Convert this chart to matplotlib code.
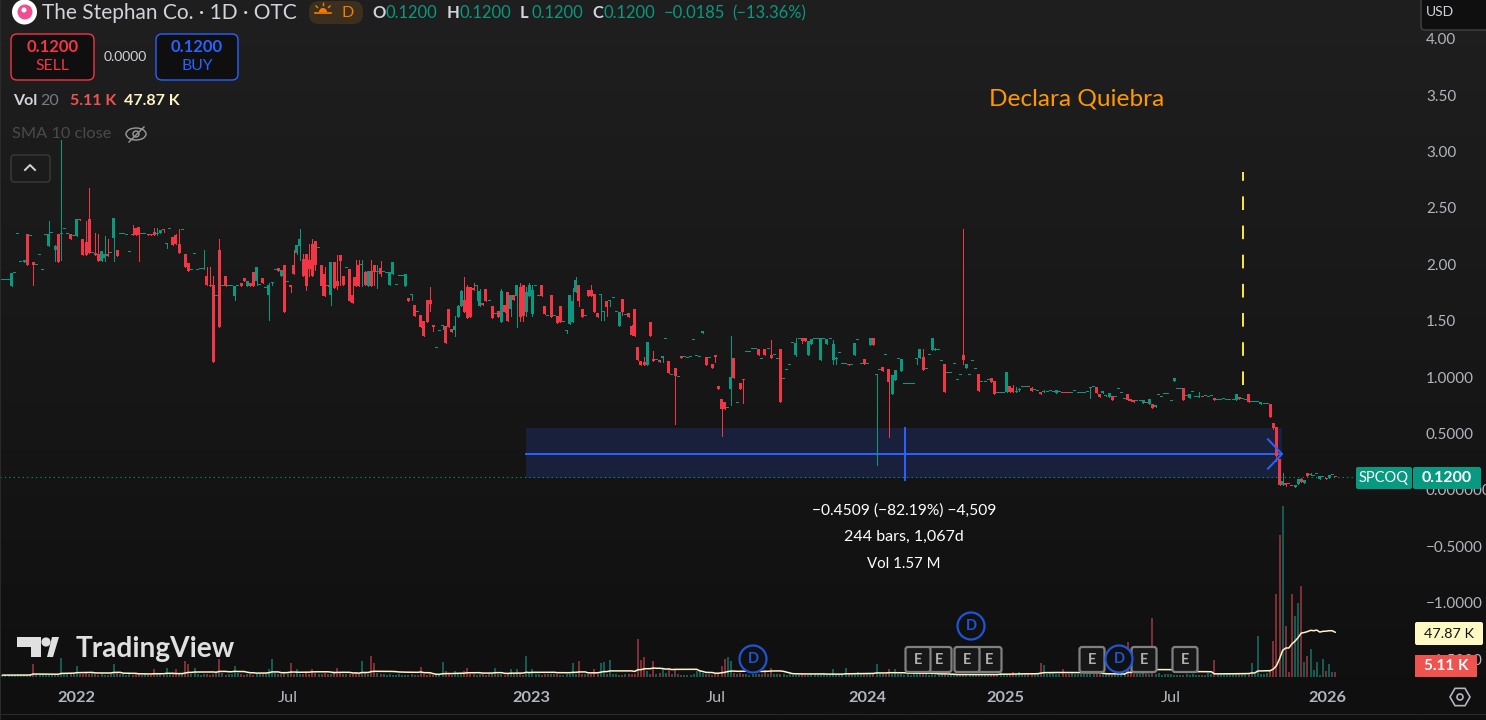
import numpy as np
import pandas as pd
import matplotlib
matplotlib.use("Agg")
import matplotlib.pyplot as plt
from matplotlib.patches import FancyBboxPatch, Rectangle, Circle, Polygon, Ellipse, RegularPolygon

plt.rcParams['font.family'] = ['Lato', 'DejaVu Sans']

# a plain float is a flat bar (open = high = low = close), the rest are o, h, l, c
ohlc_2022 = [
    1.87, 1.87, 1.87, (1.82, 1.93, 1.82, 1.93), 1.93, 2.28, 2.03, (2.03, 2.05, 2.03, 2.05), (2.28, 2.28, 2.00, 2.00), 2.26,
    (2.03, 2.03, 1.83, 2.00), 2.00, 2.09, 1.96, 2.27, (2.17, 2.39, 2.17, 2.28), 2.29, (2.14, 2.18, 2.04, 2.17), (2.28, 2.28, 2.03, 2.03), (2.28, 3.11, 2.05, 2.28),
    2.32, 2.28, (2.28, 2.28, 2.23, 2.23), 2.26, (2.26, 2.41, 2.26, 2.41), (2.41, 2.41, 2.40, 2.40), (2.23, 2.23, 2.09, 2.09), (2.21, 2.39, 2.09, 2.09), (2.41, 2.69, 2.11, 2.11), 2.11,
    (2.11, 2.29, 2.09, 2.09), (2.10, 2.28, 2.04, 2.04), (2.04, 2.13, 2.04, 2.13), (2.07, 2.26, 2.04, 2.10), (2.10, 2.23, 2.08, 2.08), 2.11, (2.24, 2.42, 2.04, 2.42), (2.14, 2.14, 2.08, 2.08), 2.28, 2.28,
    2.27, 2.12, (2.28, 2.36, 2.27, 2.27), (2.33, 2.33, 2.27, 2.27), (2.34, 2.34, 2.04, 2.27), 2.28, 2.28, (2.28, 2.28, 2.27, 2.27), (2.28, 2.28, 2.27, 2.27), (2.30, 2.33, 2.27, 2.27),
    (2.28, 2.33, 2.27, 2.28), (2.29, 2.31, 2.29, 2.31), (2.32, 2.32, 2.30, 2.31), (2.19, 2.19, 2.15, 2.19), 2.32, (2.25, 2.25, 2.18, 2.18), (2.27, 2.28, 2.19, 2.19), (2.19, 2.32, 2.11, 2.11), 2.31, (2.10, 2.10, 1.99, 1.99),
    (2.02, 2.02, 1.95, 1.95), 1.96, 2.10, 1.96, 1.97, (1.97, 2.14, 1.97, 1.97), (1.91, 1.99, 1.83, 1.83), (1.83, 1.99, 1.82, 1.82), (1.83, 1.91, 1.14, 1.14), 1.73,
    (2.14, 2.23, 1.45, 1.45), 1.82, (1.91, 1.91, 1.82, 1.82), 1.82, 1.82, (1.73, 1.82, 1.69, 1.82), 1.82, (1.84, 1.84, 1.82, 1.82), (1.89, 1.89, 1.86, 1.86), (1.82, 1.86, 1.82, 1.86),
    (1.84, 1.84, 1.82, 1.82), (1.94, 1.94, 1.82, 1.82), (1.86, 1.99, 1.83, 1.99), 1.83, (1.89, 1.89, 1.84, 1.84), 1.80, (1.74, 1.84, 1.52, 1.83), (1.84, 1.84, 1.83, 1.84), 1.96, (1.98, 1.98, 1.95, 1.95),
    (1.91, 1.96, 1.91, 1.96), (2.00, 2.00, 1.59, 1.59), 1.85, (1.83, 1.83, 1.76, 1.81), (2.00, 2.14, 1.92, 1.92), (2.11, 2.18, 2.10, 2.18), (2.17, 2.32, 2.05, 2.23), (2.06, 2.10, 1.91, 1.91), (2.10, 2.10, 1.78, 1.82), (2.05, 2.19, 1.91, 1.97),
    (2.19, 2.23, 1.91, 1.91), (2.22, 2.22, 1.96, 2.00), 2.15, (2.00, 2.00, 1.74, 1.82), (1.92, 1.99, 1.73, 1.73), (1.83, 1.83, 1.82, 1.82), (1.74, 2.03, 1.65, 2.03), (2.03, 2.03, 1.80, 1.80), (1.86, 2.09, 1.79, 1.82), (2.09, 2.09, 1.83, 2.04),
    (1.91, 1.91, 1.83, 1.83), 1.98, (1.97, 1.97, 1.68, 1.68),
]

ohlc_2023 = [
    (1.74, 1.90, 1.67, 1.67), (1.90, 2.05, 1.82, 1.82), (2.00, 2.05, 1.82, 1.82), (2.00, 2.05, 1.82, 2.00), (1.94, 1.95, 1.83, 1.83), (1.82, 1.95, 1.82, 1.95), (1.95, 2.05, 1.82, 1.82), (2.00, 2.00, 1.83, 1.94), (1.94, 2.00, 1.80, 1.94), (1.98, 2.04, 1.91, 1.92),
    1.94, 1.93, (1.83, 1.94, 1.83, 1.94), (1.92, 2.03, 1.92, 2.03), 1.83, 1.91, 1.91, (1.82, 1.92, 1.82, 1.92), (1.71, 1.71, 1.68, 1.68), (1.74, 1.74, 1.69, 1.74),
    (1.65, 1.65, 1.55, 1.55), 1.59, (1.56, 1.56, 1.45, 1.45), (1.51, 1.51, 1.37, 1.37), (1.69, 1.69, 1.50, 1.50), (1.69, 1.81, 1.60, 1.66), (1.47, 1.47, 1.42, 1.45), 1.27, 1.42, (1.46, 1.46, 1.44, 1.46),
    (1.46, 1.46, 1.31, 1.31), (1.61, 1.61, 1.45, 1.45), (1.44, 1.44, 1.41, 1.41), (1.43, 1.55, 1.37, 1.46), (1.54, 1.65, 1.54, 1.64), (1.64, 1.78, 1.64, 1.77), (1.69, 1.90, 1.59, 1.59), (1.81, 1.83, 1.53, 1.53), (1.81, 1.81, 1.54, 1.54), (1.80, 1.84, 1.78, 1.78),
    (1.82, 1.82, 1.69, 1.82), (1.64, 1.79, 1.64, 1.77), (1.67, 1.67, 1.65, 1.65), (1.79, 1.79, 1.68, 1.68), 1.68, (1.64, 1.64, 1.53, 1.53), 1.57, (1.60, 1.60, 1.54, 1.54), (1.50, 1.79, 1.50, 1.77), (1.65, 1.65, 1.59, 1.59),
    (1.76, 1.76, 1.51, 1.51), (1.61, 1.74, 1.55, 1.74), (1.74, 1.74, 1.69, 1.69), (1.73, 1.83, 1.45, 1.83), (1.81, 1.84, 1.51, 1.54), (1.83, 1.83, 1.51, 1.55), (1.59, 1.81, 1.55, 1.76), (1.73, 1.84, 1.73, 1.83), (1.57, 1.83, 1.55, 1.78), 1.82,
    1.73, (1.83, 1.83, 1.73, 1.73), (1.64, 1.64, 1.57, 1.57), 1.55, (1.74, 1.74, 1.54, 1.54), 1.55, (1.55, 1.55, 1.49, 1.49), (1.64, 1.64, 1.50, 1.50), 1.50, (1.42, 1.42, 1.40, 1.42),
    (1.48, 1.74, 1.48, 1.74), (1.50, 1.80, 1.50, 1.68), (1.76, 1.90, 1.76, 1.87), (1.83, 1.83, 1.64, 1.68), (1.61, 1.61, 1.54, 1.54), 1.55, (1.78, 1.78, 1.73, 1.73), (1.78, 1.83, 1.73, 1.73), (1.75, 1.75, 1.59, 1.59), (1.58, 1.58, 1.54, 1.54),
    (1.74, 1.74, 1.52, 1.74), (1.59, 1.60, 1.52, 1.59), (1.68, 1.68, 1.55, 1.63), (1.68, 1.68, 1.64, 1.68), 1.71, 1.59, (1.46, 1.59, 1.46, 1.59), (1.70, 1.70, 1.56, 1.59), 1.56, (1.58, 1.58, 1.54, 1.54),
    (1.46, 1.47, 1.38, 1.38), (1.61, 1.61, 1.37, 1.37), (1.28, 1.28, 1.16, 1.16), (1.15, 1.15, 1.12, 1.12), (1.14, 1.19, 1.12, 1.12), (1.12, 1.32, 1.12, 1.32), (1.50, 1.50, 1.37, 1.37), (1.17, 1.24, 1.15, 1.15), 1.16, (1.16, 1.16, 1.14, 1.14),
    (1.18, 1.20, 1.14, 1.20), 1.35, (1.15, 1.15, 1.05, 1.05), 1.03, (1.09, 1.09, 0.59, 1.02), 1.01, (1.20, 1.20, 1.18, 1.18), 1.19, 1.18, 1.19,
    1.34, 1.20, 1.19,
]

ohlc_2024 = [
    (1.40, 1.42, 1.40, 1.42), (1.19, 1.19, 1.12, 1.12), 1.18, (1.13, 1.13, 1.09, 1.09), (1.21, 1.21, 1.14, 1.19), (0.93, 0.93, 0.90, 0.90), (0.82, 0.82, 0.49, 0.73), (0.79, 0.79, 0.73, 0.73), 0.74, (0.90, 1.37, 0.76, 1.01),
    (1.18, 1.18, 1.00, 1.00), 0.78, (0.96, 0.96, 0.90, 0.90), (0.99, 0.99, 0.78, 0.985), 1.23, 1.23, 1.26, 1.26, (1.26, 1.26, 1.21, 1.21), 1.17,
    (1.26, 1.26, 1.21, 1.21), 1.26, (1.21, 1.34, 1.18, 1.18), 1.21, 1.17, (1.26, 1.26, 0.79, 0.79), 0.99, 1.07, 1.12, 1.31,
    (1.21, 1.36, 1.20, 1.31), 1.35, (1.36, 1.36, 1.31, 1.33), (1.36, 1.36, 1.33, 1.33), (1.21, 1.33, 1.21, 1.33), (1.30, 1.35, 1.30, 1.35), 1.35, 1.35, (1.16, 1.36, 1.16, 1.36), 1.35,
    (1.30, 1.35, 1.30, 1.35), 1.35, (1.16, 1.34, 1.13, 1.30), (1.17, 1.19, 1.13, 1.17), 1.22, 1.13, 1.13, (1.13, 1.13, 1.12, 1.12), 1.12, (1.21, 1.31, 1.21, 1.31),
    1.34, 1.13, (1.17, 1.17, 1.13, 1.13), 1.13, (1.29, 1.36, 1.29, 1.36), (1.36, 1.36, 1.29, 1.29), (1.03, 1.04, 0.23, 1.03), 1.07, (1.10, 1.10, 1.06, 1.06), 1.21,
    (1.08, 1.08, 0.48, 0.97), (0.86, 1.03, 0.86, 1.03), (0.98, 1.07, 0.98, 1.07), 1.17, (1.06, 1.17, 1.06, 1.17), 0.95, 0.95, 0.95, 0.95, (1.17, 1.17, 1.13, 1.17),
    (1.18, 1.26, 1.18, 1.26), (1.19, 1.26, 1.07, 1.07), 1.08, 1.21, (1.25, 1.36, 1.25, 1.36), (1.25, 1.27, 1.25, 1.25), 1.25, 1.15, (1.13, 1.13, 0.88, 0.88), 1.05,
    1.05, 1.13, 0.98, 1.03, (1.21, 2.32, 1.13, 1.16), (1.09, 1.13, 1.09, 1.13), 1.03, 1.15, 1.08, (1.04, 1.04, 0.89, 0.89),
    0.97, 0.97, 0.98,
]

ohlc_2025 = [
    (1.00, 1.00, 0.97, 0.97), (0.975, 0.975, 0.86, 0.86), 0.87, 0.87, 0.87, (0.88, 1.055, 0.88, 1.055), (0.93, 0.93, 0.88, 0.88), (0.91, 0.94, 0.88, 0.88), (0.88, 0.92, 0.88, 0.88), (0.895, 0.91, 0.89, 0.895),
    0.92, 0.92, (0.921, 0.921, 0.92, 0.92), (0.913, 0.92, 0.89, 0.89), 0.895, 0.885, (0.88, 0.88, 0.86, 0.86), (0.88, 0.895, 0.88, 0.88), 0.875, 0.89,
    0.88, (0.87, 0.895, 0.87, 0.895), 0.875, (0.867, 0.867, 0.866, 0.866), (0.867, 0.867, 0.866, 0.866), (0.867, 0.867, 0.866, 0.866), 0.866, 0.885, 0.866, 0.866,
    0.866, 0.875, (0.91, 0.91, 0.825, 0.91), 0.92, (0.92, 0.92, 0.87, 0.87), (0.86, 0.86, 0.83, 0.83), (0.87, 0.89, 0.87, 0.89), (0.84, 0.85, 0.84, 0.84), (0.83, 0.87, 0.83, 0.87), (0.84, 0.84, 0.81, 0.81),
    0.83, 0.90, 0.87, 0.82, (0.86, 0.86, 0.81, 0.81), (0.815, 0.815, 0.80, 0.80), (0.807, 0.807, 0.79, 0.79), 0.80, 0.80, (0.78, 0.807, 0.78, 0.807),
    (0.781, 0.781, 0.78, 0.78), (0.77, 0.815, 0.77, 0.815), (0.77, 0.77, 0.736, 0.736), (0.745, 0.76, 0.745, 0.76), 0.85, 0.83, 0.857, 0.857, 0.80, (0.975, 1.00, 0.975, 1.00),
    0.90, 0.90, (0.913, 0.913, 0.807, 0.807), 0.84, (0.825, 0.86, 0.825, 0.86), 0.875, 0.83, (0.83, 0.88, 0.83, 0.83), (0.831, 0.831, 0.83, 0.83), 0.84,
    0.83, 0.84, (0.825, 0.825, 0.807, 0.807), 0.81, 0.81, 0.82, 0.81, 0.81, 0.81, (0.807, 0.86, 0.807, 0.86),
    (0.833, 0.833, 0.815, 0.815), 0.82, 0.81, (0.86, 0.86, 0.79, 0.79), 0.785, 0.785, 0.785, (0.77, 0.79, 0.77, 0.79), 0.768, 0.768,
    (0.77, 0.77, 0.656, 0.656), (0.603, 0.603, 0.55, 0.558), (0.567, 0.567, 0.27, 0.31), (0.284, 0.284, 0.053, 0.053), (0.053, 0.16, 0.05, 0.089), (0.068, 0.068, 0.045, 0.053), (0.061, 0.061, 0.06, 0.06), (0.043, 0.043, 0.042, 0.042), (0.036, 0.053, 0.036, 0.053), (0.062, 0.106, 0.062, 0.106),
    (0.106, 0.115, 0.08, 0.08), (0.07, 0.097, 0.07, 0.097), (0.16, 0.16, 0.133, 0.133), (0.14, 0.16, 0.14, 0.14), 0.135, 0.155, (0.107, 0.133, 0.107, 0.133), 0.12, (0.111, 0.111, 0.11, 0.11), (0.115, 0.14, 0.115, 0.14),
    0.14, (0.121, 0.121, 0.12, 0.12),
]

# first bar of each block
block_start = [0, 113, 226, 319]

# volume in thousands, one value per bar
volume = [
    2, 2, 2, 2, 2, 2, 2, 2, 2, 3,
    14, 3, 3, 3, 2, 2, 3, 3, 2, 20,
    4, 3, 4, 3, 12, 3, 3, 4, 3, 4,
    3, 2, 3, 2, 2, 3, 14, 4, 3, 3,
    2, 3, 2, 3, 3, 2, 3, 2, 2, 9,
    3, 3, 2, 10, 3, 3, 8, 3, 3, 17,
    14, 3, 10, 3, 2, 3, 3, 2, 3, 4,
    19, 4, 2, 3, 3, 12, 4, 3, 2, 3,
    3, 2, 3, 3, 3, 4, 9, 19, 4, 3,
    3, 4, 3, 15, 3, 9, 3, 3, 4, 3,
    9, 4, 3, 3, 4, 3, 3, 6, 10, 5,
    3, 3, 3, 3, 4, 3, 17, 4, 3, 22,
    15, 4, 3, 3, 2, 3, 2, 2, 3, 2,
    2, 2, 3, 2, 2, 11, 3, 2, 3, 2,
    3, 2, 16, 6, 3, 2, 6, 3, 3, 6,
    10, 3, 3, 2, 3, 3, 2, 3, 3, 10,
    3, 3, 2, 3, 8, 3, 9, 3, 2, 22,
    4, 8, 3, 3, 2, 3, 3, 3, 3, 3,
    2, 2, 3, 3, 15, 3, 17, 3, 3, 3,
    3, 9, 3, 15, 16, 3, 18, 3, 3, 2,
    2, 3, 3, 3, 3, 40, 18, 21, 6, 3,
    17, 3, 4, 9, 4, 8, 3, 8, 3, 2,
    2, 2, 2, 3, 6, 7, 4, 3, 3, 2,
    3, 3, 12, 19, 21, 17, 4, 3, 4, 3,
    3, 2, 3, 3, 3, 3, 7, 3, 10, 3,
    3, 3, 3, 2, 3, 2, 2, 2, 3, 2,
    2, 3, 3, 3, 3, 4, 3, 3, 9, 3,
    3, 3, 10, 3, 3, 3, 5, 3, 3, 3,
    3, 3, 14, 3, 3, 3, 9, 3, 8, 3,
    3, 2, 3, 2, 3, 3, 3, 3, 3, 2,
    3, 3, 2, 3, 3, 2, 3, 2, 2, 3,
    3, 2, 3, 2, 3, 2, 3, 3, 3, 3,
    3, 3, 9, 3, 3, 3, 5, 3, 5, 3,
    3, 3, 3, 3, 4, 15, 13, 3, 4, 5,
    3, 3, 8, 3, 3, 5, 3, 3, 3, 3,
    3, 3, 3, 3, 3, 3, 3, 3, 2, 3,
    3, 3, 4, 37, 6, 3, 3, 3, 4, 3,
    3, 63, 3, 4, 2, 3, 3, 3, 2, 2,
    2, 2, 3, 2, 3, 2, 2, 2, 2, 4,
    3, 18, 3, 4, 3, 3, 3, 4, 3, 3,
    3, 3, 3, 15, 3, 44, 3, 3, 4, 6,
    38, 88, 151, 182, 54, 5, 88, 65, 79, 97,
    16, 22, 30, 7, 16, 2, 19, 6, 14, 5, 5.11,
]

price_ticks = [4.0, 3.5, 3.0, 2.5, 2.0, 1.5, 1.0, 0.5, 0.0, -0.5, -1.0, -1.5]
price_labels = ['4.00', '3.50', '3.00', '2.50', '2.00', '1.50', '1.0000', '0.5000', '0.000000', '−0.5000', '−1.0000', '−1.5000']

time_bars = [24, 92, 170.5, 230, 279.2, 323.5, 377, 427.3]
time_labels = ['2022', 'Jul', '2023', 'Jul', '2024', '2025', 'Jul', '2026']
time_bold = [True, False, True, False, True, True, False, True]

earnings_px = [939, 989, 918, 967, 1092, 1144, 1185]
dividend_px = [753, 1119]
dividend_high_px = [971]

last_price = 0.12
range_top, range_bottom, range_mid = 0.558, 0.115, 0.328
range_first, range_last, range_middle = 169, 412.8, 291.2
bankruptcy_bar, bankruptcy_top, bankruptcy_bottom = 400.2, 2.83, 0.94

UP = '#089981'
DOWN = '#f23645'
BLUE = '#2962ff'
W, H = 1486, 720

rows = []
bars = []
for start, block in zip(block_start, [ohlc_2022, ohlc_2023, ohlc_2024, ohlc_2025]):
    for i, r in enumerate(block):
        rows.append((r, r, r, r) if isinstance(r, float) else r)
        bars.append(start + i)
df = pd.DataFrame(rows, columns=['open', 'high', 'low', 'close'])
df['bar'] = bars
df['up'] = df['close'] >= df['open']

vol = pd.Series(volume, dtype=float)
vol_ma = vol.rolling(20, min_periods=1).mean()
vol_bar = np.arange(len(vol))
vol_up = df.set_index('bar')['up'].reindex(vol_bar).fillna(True).astype(bool)

fig = plt.figure(figsize=(W / 100, H / 100), dpi=100, facecolor='#131313')

# fondo con degradado
ax_bg = fig.add_axes([0, 0, 1, 1], zorder=0)
grad = np.linspace(0, 1, 256).reshape(-1, 1)
ax_bg.imshow(grad, aspect='auto', cmap=matplotlib.colors.LinearSegmentedColormap.from_list('bg', ['#1f1f1f', '#0f0f0f']), extent=[0, 1, 0, 1])
ax_bg.axis('off')

# velas: 112.8 px por unidad, cero en y=491; barras cada 3.1 px
ax = fig.add_axes([0, 0, 1, 1], zorder=2)
ax.patch.set_alpha(0)
ax.set_xlim(-2.33 / 3.1, (W - 2.33) / 3.1)
ax.set_ylim((491 - H) / 112.8, 491 / 112.8)
ax.axis('off')

# volumen en su propio eje, base en y=677
ax_vol = fig.add_axes([0, 0, 1, 1], zorder=1)
ax_vol.patch.set_alpha(0)
ax_vol.set_xlim(ax.get_xlim())
ax_vol.set_ylim(-(H - 677) * 1.064, 677 * 1.064)
ax_vol.axis('off')

ax_vol.bar(vol_bar, vol.values, width=0.65, color=np.where(vol_up.values, '#125c54', '#7d2f35'), linewidth=0, antialiased=False)
ax_vol.plot(vol_bar, vol_ma.values, color='#fff3c8', lw=1.1, solid_capstyle='round', zorder=3)

# rango medido
ax.fill_between([range_first, range_last], range_bottom, range_top, color='#18203c', lw=0, zorder=1)
ax.plot([range_first, range_last], [range_mid, range_mid], color=BLUE, lw=1.4, zorder=2)
ax.plot([range_middle, range_middle], [range_bottom - 0.02, range_top], color=BLUE, lw=1.4, zorder=2)

# precio actual punteado
ax.plot([ax.get_xlim()[0], (1356 - 2.33) / 3.1], [last_price, last_price], color=UP, lw=0.8, ls=(0, (1, 3)), zorder=2)

colors = np.where(df['up'], UP, DOWN)
ax.vlines(df['bar'], df['low'], df['high'], color=colors, lw=0.72, zorder=3, antialiased=False)
body_low = df[['open', 'close']].min(axis=1)
body_h = np.maximum((df['open'] - df['close']).abs(), 1 / 112.8)
ax.bar(df['bar'], body_h, bottom=body_low, width=0.95, color=colors, linewidth=0, zorder=4, antialiased=False)

# flecha de la medicion
ax.plot([(1268 - 2.33) / 3.1, range_last, (1268 - 2.33) / 3.1], [range_mid + 0.13, range_mid, range_mid - 0.13], color=BLUE, lw=1.4, zorder=5)

# linea amarilla de la quiebra
ax.plot([bankruptcy_bar, bankruptcy_bar], [bankruptcy_bottom, bankruptcy_top], color='#ffeb3b', lw=1.4, ls=(0, (7, 8)), zorder=5)

# interfaz en pixeles
ui = fig.add_axes([0, 0, 1, 1], zorder=3)
ui.patch.set_alpha(0)
ui.set_xlim(0, W)
ui.set_ylim(H, 0)
ui.axis('off')


def txt(x, y, s, size=9.5, color='#d1d4dc', ha='left', weight='normal', z=10):
    return ui.text(x, y + 1.2, s, fontsize=size, color=color, ha=ha, va='center', fontweight=weight, zorder=z)


def box(x0, y0, x1, y1, fc, ec='none', lw=1.0, r=4, z=6):
    p = FancyBboxPatch((x0 + r, y0 + r), x1 - x0 - 2 * r, y1 - y0 - 2 * r, boxstyle='round,pad=%g,rounding_size=%g' % (r, r),
                       fc=fc, ec=ec, lw=lw, zorder=z, mutation_aspect=1)
    ui.add_patch(p)
    return p


# bordes
ui.add_patch(Rectangle((0, 0), 1, H, fc='#2a2a2a', ec='none', zorder=1))
ui.add_patch(Rectangle((0, 714), W, 1.2, fc='#2a2a2a', ec='none', zorder=1))

# logo de la empresa
ui.add_patch(Circle((24.5, 12), 12.5, fc='white', ec='none', zorder=6))
ui.add_patch(Circle((25, 12), 7.5, fc='#ee4f93', ec='none', zorder=7))
ui.add_patch(Circle((24, 10), 2.5, fc='white', ec='none', zorder=8))

txt(42, 12, 'The Stephan Co. · 1D · OTC', size=15, color='#d1d4dc')

box(309, 1, 363, 24, '#3d2f1e', r=10)
ui.add_patch(Circle((323, 12), 4, fc='#f57c00', ec='none', zorder=7))
ui.add_patch(Rectangle((315, 12), 16, 5, fc='#3d2f1e', ec='none', zorder=7))
ui.plot([315, 331], [13, 13], color='#f57c00', lw=1.2, zorder=8)
for xa, ya, xb, yb in [(323, 3, 323, 5), (316, 6, 317.5, 7.5), (330, 6, 328.5, 7.5)]:
    ui.plot([xa, xb], [ya, yb], color='#f57c00', lw=1.0, zorder=8)
txt(348, 12, 'D', size=11.5, color='#f57c00', ha='center')

# O H L C
for x, s, c in [(372, 'O', '#d1d4dc'), (385, '0.1200', UP), (447, 'H', '#d1d4dc'), (459, '0.1200', UP), (520, 'L', '#d1d4dc'), (531, '0.1200', UP),
                (592, 'C', '#d1d4dc'), (603, '0.1200', UP), (664, '−0.0185', UP), (732, '(−13.36%)', UP)]:
    txt(x, 12, s, size=11.9, color=c, weight='bold' if len(s) == 1 else 'normal')

# botones
box(11, 34, 94, 80, '#0f0f0f', ec=DOWN, lw=1.0, r=6)
txt(52.5, 46, '0.1200', size=12, color=DOWN, ha='center', weight='bold')
txt(52.5, 65, 'SELL', size=11.3, color=DOWN, ha='center')
txt(125, 56, '0.0000', size=10, color='#d1d4dc', ha='center')
box(156, 34, 238, 80, '#0f0f0f', ec=BLUE, lw=1.0, r=6)
txt(197, 46, '0.1200', size=12, color=BLUE, ha='center', weight='bold')
txt(197, 65, 'BUY', size=11.3, color=BLUE, ha='center')

# leyendas
txt(13, 100, 'Vol', size=11.5, color='#d1d4dc', weight='bold')
txt(40, 100, '20', size=11.5, color='#787b86')
txt(70, 100, '5.11 K', size=11.5, color='#ef5350', weight='bold')
txt(124, 100, '47.87 K', size=11.5, color='#fff3c8', weight='bold')
txt(12, 133, 'SMA 10 close', size=11.8, color='#4a4a4a')
ui.add_patch(Ellipse((136, 134), 20, 12, fc='none', ec='#9a9a9a', lw=1.0, zorder=7))
ui.add_patch(Circle((136, 134), 3, fc='none', ec='#9a9a9a', lw=1.0, zorder=7))
ui.plot([129, 144], [142, 127], color='#9a9a9a', lw=1.0, zorder=7)
box(11, 155, 50, 182, 'none', ec='#3a3a3a', lw=1.0, r=3)
ui.plot([25, 30, 35], [170, 165, 170], color='#d1d4dc', lw=1.4, zorder=7)

txt(989, 98, 'Declara Quiebra', size=17.6, color='#ff9800')

# textos de la medicion
txt(904, 509, '−0.4509 (−82.19%) −4,509', size=11.2, color='white', ha='center')
txt(904, 536, '244 bars, 1,067d', size=11.5, color='white', ha='center')
txt(904, 563, 'Vol 1.57 M', size=10.8, color='white', ha='center')

# logo TradingView
logo = '#e0e0e0'
ui.add_patch(Polygon([(17, 637), (41, 637), (41, 657), (31, 657), (31, 647), (17, 647)], fc=logo, ec='none', zorder=6))
ui.add_patch(Circle((46, 642), 4.6, fc=logo, ec='none', zorder=6))
ui.add_patch(Polygon([(47, 657), (52, 637), (59, 637), (53, 657)], fc=logo, ec='none', zorder=6))
txt(76, 648, 'TradingView', size=20.2, color=logo, weight='bold', z=6)

# eventos E y D
for ex in earnings_px:
    box(ex - 12.5, 647, ex + 12.5, 672, '#171717', ec='#808080', lw=1.6, r=2.5, z=7)
    txt(ex, 659, 'E', size=10.5, color='#b0b0b0', ha='center', weight='bold', z=8)
for dx in dividend_px:
    ui.add_patch(Circle((dx, 659), 13.5, fc='#111111', ec='#1e54d8', lw=1.6, zorder=9))
    txt(dx, 658, 'D', size=10.5, color='#1e54d8', ha='center', weight='bold', z=10)
for dx in dividend_high_px:
    ui.add_patch(Circle((dx, 626), 13.5, fc='#111111', ec='#1e54d8', lw=1.6, zorder=9))
    txt(dx, 625, 'D', size=10.5, color='#1e54d8', ha='center', weight='bold', z=10)

# eje de precios
for p, lab in zip(price_ticks, price_labels):
    y = 491 - p * 112.8
    txt(1426, y - 0.8, lab, size=11, color='#b2b5be', z=4)

# etiquetas de precio
box(1356, 467, 1412, 489, UP, r=2)
txt(1384, 477, 'SPCOQ', size=10.5, color='white', ha='center')
box(1413, 467, 1481, 489, UP, r=2)
txt(1447, 477, '0.1200', size=11.5, color='white', ha='center', weight='bold')

box(1421, -6, 1492, 30, '#0f0f0f', ec='#434343', lw=1.0, r=4)
txt(1426, 11, 'USD', size=10, color='#d1d4dc', z=11)

box(1415, 622, 1483, 645, '#fff9c4', r=2)
txt(1449, 632.5, '47.87 K', size=10.4, color='#131313', ha='center')
box(1415, 655, 1477, 677, '#ef5350', r=0.5)
txt(1446, 665, '5.11 K', size=11, color='white', ha='center', weight='bold')

# eje de tiempo
for b, lab, bold in zip(time_bars, time_labels, time_bold):
    ui.text(2.33 + 3.1 * b, 698, lab, fontsize=11.8, color='#b2b5be', ha='center', va='center', fontweight='bold' if bold else 'normal')

ui.add_patch(RegularPolygon((1460, 697), 6, radius=10, orientation=np.pi / 6, fc='none', ec='#b2b5be', lw=1.2, zorder=6))
ui.add_patch(Circle((1460, 697), 3, fc='none', ec='#b2b5be', lw=1.2, zorder=6))

fig.savefig('out.png', dpi=100, facecolor=fig.get_facecolor())
